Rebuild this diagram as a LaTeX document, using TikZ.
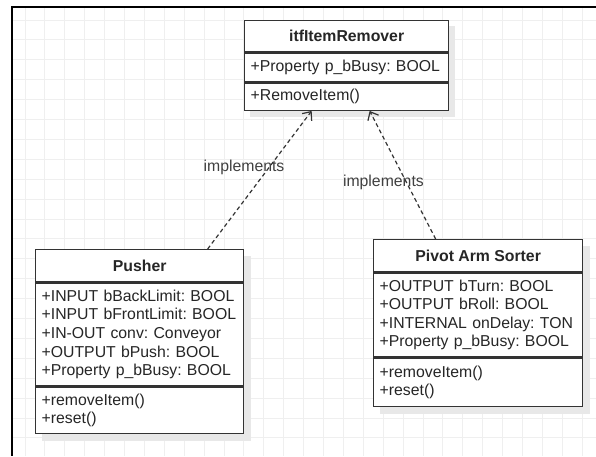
\documentclass[tikz,border=0pt]{standalone}
\usepackage{fontspec}
\setmainfont{Liberation Sans}
\usetikzlibrary{arrows.meta,calc}
\definecolor{gridc}{HTML}{EFEFEF}
\definecolor{ink}{HTML}{333333}
\definecolor{shadowc}{HTML}{E8E8E8}
\definecolor{lblc}{HTML}{404040}
\pgfdeclarelayer{gridlayer}
\pgfdeclarelayer{shadelayer}
\pgfsetlayers{gridlayer,shadelayer,main}
\begin{document}
\begin{tikzpicture}[x=1pt,y=-1pt,
  txt/.style={font=\fontsize{15.8}{18.6}\selectfont\frenchspacing, text=black!85},
  hdr/.style={txt, draw=ink, line width=1.3pt, fill=white, anchor=north west,
    inner sep=0pt, font=\fontsize{15.8}{18.6}\selectfont\bfseries, align=center},
  sect/.style={txt, draw=ink, line width=1.3pt, fill=white, anchor=north west,
    inner xsep=6pt, inner ysep=0pt, align=left},
  conn/.style={draw=ink, line width=1.2pt, dash pattern=on 4pt off 3pt,
    -{Straight Barb[length=7pt,width=12pt,line width=1.2pt]}},
  lbl/.style={txt, text=lblc, inner sep=0pt},
  gridline/.style={draw=gridc, line width=0.9pt}
]
\useasboundingbox (0,0) rectangle (596,456);

% background grid
\begin{pgfonlayer}{gridlayer}
  \foreach \i in {0,...,28}
    \draw[gridline] ({25+19.9*\i},8) -- ({25+19.9*\i},456);
  \foreach \j in {0,...,21}
    \draw[gridline] (13,{20+19.9*\j}) -- (596,{20+19.9*\j});
\end{pgfonlayer}

% frame
\draw[line width=2pt, black] (596,7) -- (12,7) -- (12,456);

% interface
\node[hdr, minimum width=204pt, minimum height=31pt] (tophd) at (244,20) {itfItemRemover};
\node[sect, text width=192pt, minimum height=29pt] (topat) at (tophd.south west) {+Property p\_bBusy: BOOL};
\node[sect, text width=192pt, minimum height=27pt] (topme) at (topat.south west) {+RemoveItem()};

% Pusher
\node[hdr, minimum width=208pt, minimum height=32pt] (pushhd) at (35,249) {Pusher};
\node[sect, text width=196pt, minimum height=103pt] (pushat) at (pushhd.south west)
  {+INPUT bBackLimit: BOOL\\+INPUT bFrontLimit: BOOL\\+IN-OUT conv: Conveyor\\+OUTPUT bPush: BOOL\\+Property p\_bBusy: BOOL};
\node[sect, text width=196pt, minimum height=46pt] (pushme) at (pushat.south west)
  {+removeItem()\\+reset()};

% Pivot Arm Sorter
\node[hdr, minimum width=209pt, minimum height=32pt] (pivhd) at (373,239) {Pivot Arm Sorter};
\node[sect, text width=197pt, minimum height=84pt] (pivat) at (pivhd.south west)
  {+OUTPUT bTurn: BOOL\\+OUTPUT bRoll: BOOL\\+INTERNAL onDelay: TON\\+Property p\_bBusy: BOOL};
\node[sect, text width=197pt, minimum height=48pt] (pivme) at (pivat.south west)
  {+removeItem()\\+reset()};

% drop shadows
\begin{pgfonlayer}{shadelayer}
  \fill[shadowc] ($(tophd.north west)+(6,6)$) rectangle ($(topme.south east)+(6,6)$);
  \fill[shadowc] ($(pushhd.north west)+(7,7)$) rectangle ($(pushme.south east)+(7,7)$);
  \fill[shadowc] ($(pivhd.north west)+(7,7)$) rectangle ($(pivme.south east)+(7,7)$);
\end{pgfonlayer}

% realisations
\draw[conn] ([xshift=68pt]pushhd.north) --
  node[lbl, pos=0.59, xshift=-25pt] (implA) {implements}
  ([xshift=-35pt]topme.south);
\draw[conn] ([xshift=-42.5pt]pivhd.north) --
  node[lbl, pos=0.443, xshift=-23pt] (implB) {implements}
  ([xshift=23pt]topme.south);
\end{tikzpicture}
\end{document}
